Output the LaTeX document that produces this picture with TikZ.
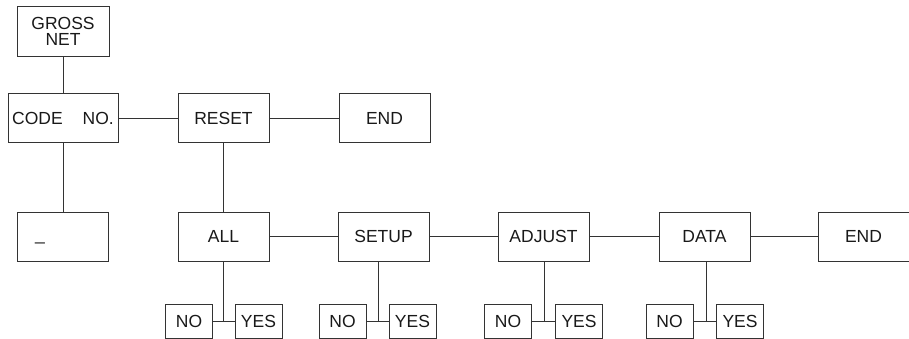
\documentclass[tikz,border=0pt]{standalone}
\usepackage{fontspec}
\setmainfont{Liberation Sans}
\begin{document}
\begin{tikzpicture}[x=1pt,y=-1pt,
  line width=0.9pt,
  box/.style={draw=black!80, minimum width=91pt, minimum height=49pt, inner sep=0pt,
    font=\fontsize{17.5}{16}\selectfont, text=black!90},
  small/.style={draw=black!80, minimum width=47pt, minimum height=34pt, inner sep=0pt,
    font=\fontsize{17.5}{16}\selectfont, text=black!90},
  conn/.style={draw=black!80}]
\useasboundingbox (0,0) rectangle (909,339);
% top row
\node[box, minimum width=92pt, minimum height=50pt, align=center] (gross) at (63,31) {GROSS\\NET};
\node[box, minimum width=110pt] (code) at (63,118) {CODE\hspace{20pt}NO.};
\node[box] (reset) at (223.5,118) {RESET};
\node[box] (end1) at (384.5,118) {END};
% second row
\node[box] (blank) at (62.5,236.5) {\makebox[55pt][l]{\_\vphantom{A}}};
\node[box] (all) at (223.5,236.5) {ALL};
\node[box] (setup) at (383.5,236.5) {SETUP};
\node[box] (adjust) at (543.5,236.5) {ADJUST};
\node[box] (data) at (704.5,236.5) {DATA};
\node[box] (end2) at (863.5,236.5) {END};
% junctions
\coordinate (j1) at (223,321);
\coordinate (j2) at (378,321);
\coordinate (j3) at (544,321);
\coordinate (j4) at (706,321);
% yes/no boxes
\node[small] (no1) at (189,321) {NO};
\node[small] (yes1) at (258.5,321) {YES};
\node[small] (no2) at (342.5,321) {NO};
\node[small] (yes2) at (412.5,321) {YES};
\node[small] (no3) at (508,321) {NO};
\node[small] (yes3) at (579,321) {YES};
\node[small] (no4) at (669.5,321) {NO};
\node[small] (yes4) at (740,321) {YES};
% connectors
\draw[conn] (gross.south) -- (code.north);
\draw[conn] (code.east) -- (reset.west);
\draw[conn] (reset.east) -- (end1.west);
\draw[conn] (code.south) -- (code.south |- blank.north);
\draw[conn] (reset.south) -- (reset.south |- all.north);
\draw[conn] (all.east) -- (setup.west);
\draw[conn] (setup.east) -- (adjust.west);
\draw[conn] (adjust.east) -- (data.west);
\draw[conn] (data.east) -- (end2.west);
\draw[conn] (all.south -| j1) -- (j1);
\draw[conn] (setup.south -| j2) -- (j2);
\draw[conn] (adjust.south -| j3) -- (j3);
\draw[conn] (data.south -| j4) -- (j4);
\draw[conn] (no1.east) -- (yes1.west);
\draw[conn] (no2.east) -- (yes2.west);
\draw[conn] (no3.east) -- (yes3.west);
\draw[conn] (no4.east) -- (yes4.west);
\end{tikzpicture}
\end{document}
